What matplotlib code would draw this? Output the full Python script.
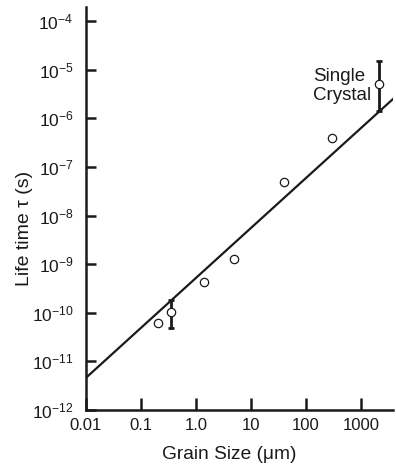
import matplotlib
matplotlib.use("Agg")
import matplotlib.pyplot as plt
import numpy as np

plt.rcParams['font.family'] = ['Liberation Sans', 'DejaVu Sans']
plt.rcParams['mathtext.fontset'] = 'custom'
plt.rcParams['mathtext.rm'] = 'Liberation Sans'
plt.rcParams['mathtext.it'] = 'Liberation Sans:italic'
plt.rcParams['mathtext.bf'] = 'Liberation Sans:bold'

# Data
grain_size = [0.2, 0.35, 1.4, 4.8, 39, 290, 2100]
life_time = [6.3e-11, 1.05e-10, 4.3e-10, 1.26e-9, 4.9e-8, 4.0e-7, 5.1e-6]

err_x = [0.35, 2100]
err_center = [1.05e-10, 5.1e-6]
err_low = [4.9e-11, 1.4e-6]
err_high = [1.85e-10, 1.5e-5]

fit_x = [0.01, 3800]
fit_y = [4.6e-12, 2.5e-6]

xtick_vals = [0.01, 0.1, 1.0, 10, 100, 1000]
xtick_labels = ["0.01", "0.1", "1.0", "10", "100", "1000"]
ytick_vals = [1e-12, 1e-11, 1e-10, 1e-9, 1e-8, 1e-7, 1e-6, 1e-5, 1e-4]

fig = plt.figure(figsize=(3.96, 4.66), dpi=100)
ax = fig.add_axes([86/396, 1-410/466, (393-86)/396, (410-7)/466])

ax.set_xscale('log')
ax.set_yscale('log')
ax.set_xlim(0.01, 3800)
ax.set_ylim(1e-12, 1.95e-4)

ax.plot(fit_x, fit_y, color='#1a1a1a', lw=1.6, zorder=2)

yc = np.array(err_center)
yerr = [yc - np.array(err_low), np.array(err_high) - yc]
ax.errorbar(err_x, err_center, yerr=yerr, fmt='none', ecolor='#1a1a1a',
            elinewidth=2.0, capsize=2.5, capthick=2.0, zorder=3)

ax.plot(grain_size, life_time, linestyle='none', marker='o', markersize=6,
        markerfacecolor='white', markeredgecolor='#1a1a1a', markeredgewidth=0.9,
        zorder=4)

ax.text(135, 4.6e-6, "Single\nCrystal", ha='left', va='center', fontsize=13.5,
        color='#1a1a1a', linespacing=1.2)

ax.set_xticks(xtick_vals, labels=xtick_labels)
ax.set_yticks(ytick_vals)
ax.minorticks_off()

for s in ['top', 'right']:
    ax.spines[s].set_visible(False)
for s in ['left', 'bottom']:
    ax.spines[s].set_linewidth(1.8)
    ax.spines[s].set_color('#1a1a1a')

ax.tick_params(axis='x', direction='in', length=9, width=1.8, labelsize=12,
               pad=6, colors='#1a1a1a')
ax.tick_params(axis='y', direction='in', length=7, width=1.8, labelsize=12.5,
               pad=9, colors='#1a1a1a')

ax.set_xlabel("Grain Size (μm)", fontsize=13.8, color='#1a1a1a')
ax.set_ylabel("Life time τ (s)", fontsize=14, color='#1a1a1a')
ax.xaxis.set_label_coords(0.467, -0.09)
ax.yaxis.set_label_coords(-0.172, 0.45)

fig.savefig("out.png", dpi=100)
